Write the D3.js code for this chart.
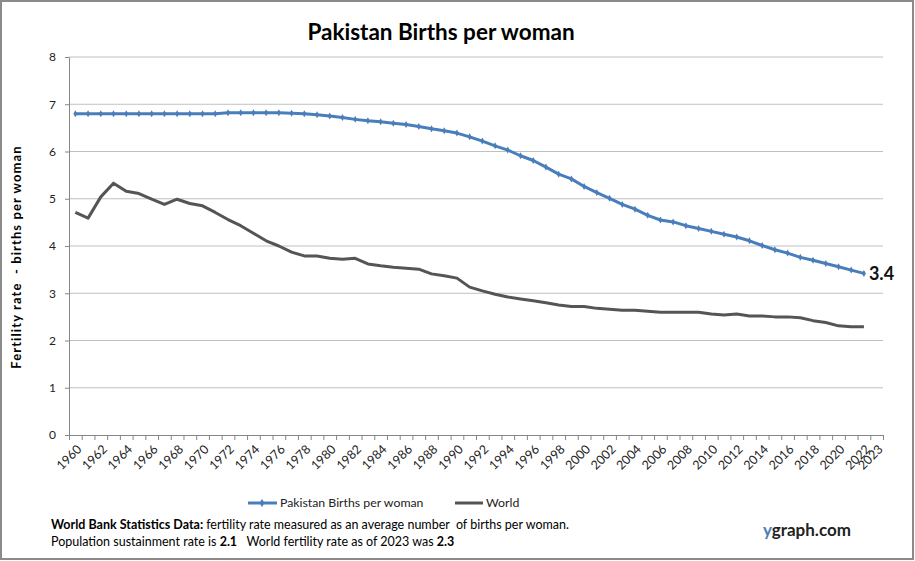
<!DOCTYPE html>
<html>
<head>
<meta charset="utf-8">
<script src="https://cdn.jsdelivr.net/npm/d3@7"></script>
<style>
  body { margin: 0; background: #fff; }
  text { font-family: Lato, "Open Sans", sans-serif; white-space: pre; }
</style>
</head>
<body>
<div id="chart"></div>
<script>
// years on the category axis (2023 has no value yet)
var years = d3.range(1960, 2024);

var pakistan = [6.80, 6.80, 6.80, 6.80, 6.80, 6.80, 6.80, 6.80, 6.80, 6.80,
                6.80, 6.80, 6.82, 6.82, 6.82, 6.82, 6.82, 6.81, 6.80, 6.78,
                6.75, 6.72, 6.68, 6.65, 6.63, 6.60, 6.57, 6.53, 6.48, 6.44,
                6.39, 6.31, 6.22, 6.12, 6.03, 5.91, 5.81, 5.67, 5.52, 5.42,
                5.26, 5.13, 5.01, 4.88, 4.78, 4.65, 4.55, 4.51, 4.43, 4.37,
                4.31, 4.25, 4.19, 4.11, 4.01, 3.92, 3.85, 3.76, 3.70, 3.63,
                3.56, 3.49, 3.42];

var world = [4.71, 4.59, 5.04, 5.33, 5.16, 5.11, 4.99, 4.88, 4.99, 4.90,
             4.85, 4.71, 4.56, 4.43, 4.27, 4.11, 4.00, 3.87, 3.79, 3.79,
             3.74, 3.72, 3.74, 3.62, 3.58, 3.55, 3.53, 3.51, 3.41, 3.37,
             3.32, 3.13, 3.05, 2.98, 2.92, 2.88, 2.84, 2.80, 2.75, 2.72,
             2.72, 2.68, 2.66, 2.64, 2.64, 2.62, 2.60, 2.60, 2.60, 2.60,
             2.56, 2.54, 2.56, 2.52, 2.52, 2.50, 2.50, 2.48, 2.42, 2.38,
             2.31, 2.29, 2.29];

var xLabels = d3.range(1960, 2023, 2).concat([2023]);
var yTicks = [0, 1, 2, 3, 4, 5, 6, 7, 8];

const W = 915, H = 561;
const plot = {left: 69, right: 883, top: 57, bottom: 435};

const blue = "#4a7ebb", grey = "#555555";

const svg = d3.select("#chart")
    .append("svg")
    .attr("width", W)
    .attr("height", H);

// outer frame
svg.append("rect")
    .attr("x", 1).attr("y", 1)
    .attr("width", 912).attr("height", 558)
    .attr("fill", "#fff")
    .attr("stroke", "#8a8a8a")
    .attr("stroke-width", 2);

// scales
const xScale = d3.scaleBand()
    .domain(years)
    .range([plot.left, plot.right]);
const xIdx = d3.scaleLinear()
    .domain([0, years.length])
    .range([plot.left, plot.right]);
const yScale = d3.scaleLinear()
    .domain([0, 8])
    .range([plot.bottom, plot.top]);
const cx = d => xScale(d) + xScale.bandwidth() / 2;

// gridlines
svg.append("g")
    .selectAll("line")
    .data(yTicks.filter(d => d > 0))
    .join("line")
    .attr("x1", plot.left).attr("x2", plot.right)
    .attr("y1", d => yScale(d)).attr("y2", d => yScale(d))
    .attr("stroke", "#c0c0c0")
    .attr("stroke-width", 1);

// y axis
const yAxisGroup = svg.append("g")
    .attr("transform", `translate(${plot.left},0)`)
    .call(d3.axisLeft(yScale).tickValues(yTicks).tickSize(4).tickSizeOuter(0).tickPadding(9));
yAxisGroup.selectAll("line, path").attr("stroke", "#868686");
yAxisGroup.selectAll("text")
    .attr("font-size", 12)
    .attr("fill", "#222")
    .style("font-family", "Lato, sans-serif");

// x axis: ticks between categories
const xAxisGroup = svg.append("g")
    .attr("transform", `translate(0,${plot.bottom})`)
    .call(d3.axisBottom(xIdx).tickValues(d3.range(years.length + 1)).tickFormat("").tickSize(5).tickSizeOuter(0));
xAxisGroup.selectAll("line, path").attr("stroke", "#868686");

// x labels, rotated
svg.append("g")
    .selectAll("text")
    .data(xLabels)
    .join("text")
    .attr("transform", d => `translate(${cx(d) + 7},${plot.bottom + 15}) rotate(-45)`)
    .attr("text-anchor", "end")
    .attr("font-size", 12.5)
    .attr("fill", "#222")
    .text(d => d);

// lines
const line = d3.line()
    .x((d, i) => cx(years[i]))
    .y(d => yScale(d));

svg.append("path")
    .datum(world)
    .attr("fill", "none")
    .attr("stroke", grey)
    .attr("stroke-width", 3)
    .attr("stroke-linejoin", "round")
    .attr("d", line);

svg.append("path")
    .datum(pakistan)
    .attr("fill", "none")
    .attr("stroke", blue)
    .attr("stroke-width", 3)
    .attr("stroke-linejoin", "round")
    .attr("d", line);

// small markers on Pakistan series
svg.append("g")
    .selectAll("path")
    .data(pakistan)
    .join("path")
    .attr("transform", (d, i) => `translate(${cx(years[i])},${yScale(d)})`)
    .attr("d", d3.symbol(d3.symbolDiamond).size(14))
    .attr("fill", blue);

// last value label
var lastIdx = pakistan.length - 1;
svg.append("text")
    .attr("x", cx(years[lastIdx]) + 5)
    .attr("y", yScale(pakistan[lastIdx]) + 7)
    .attr("font-size", 18)
    .attr("font-weight", "bold")
    .attr("fill", "#111")
    .text(pakistan[lastIdx].toFixed(1));

// title
svg.append("text")
    .attr("x", 441)
    .attr("y", 40)
    .attr("text-anchor", "middle")
    .attr("font-size", 22.5)
    .attr("font-weight", "bold")
    .attr("fill", "#000")
    .text("Pakistan Births per woman");

// y axis label
svg.append("text")
    .attr("transform", "translate(21,257) rotate(-90)")
    .attr("text-anchor", "middle")
    .attr("font-size", 13)
    .attr("letter-spacing", 1.1)
    .attr("font-weight", "bold")
    .attr("fill", "#000")
    .text("Fertility rate  - births per woman");

// legend
const legend = svg.append("g");
legend.append("line")
    .attr("x1", 248).attr("x2", 277).attr("y1", 503).attr("y2", 503)
    .attr("stroke", blue).attr("stroke-width", 3);
legend.append("path")
    .attr("transform", "translate(262,503)")
    .attr("d", d3.symbol(d3.symbolDiamond).size(20))
    .attr("fill", blue);
legend.append("text")
    .attr("x", 280).attr("y", 507)
    .attr("font-size", 12.3).attr("fill", "#222")
    .text("Pakistan Births per woman");
legend.append("line")
    .attr("x1", 455).attr("x2", 483).attr("y1", 503).attr("y2", 503)
    .attr("stroke", grey).attr("stroke-width", 3);
legend.append("text")
    .attr("x", 486).attr("y", 507)
    .attr("font-size", 12.3).attr("fill", "#222")
    .text("World");

// footer notes
const note1 = svg.append("text")
    .attr("x", 51).attr("y", 529)
    .attr("font-size", 12.5).attr("fill", "#000");
note1.append("tspan").attr("font-weight", "bold").text("World Bank Statistics Data: ");
note1.append("tspan").text("fertility rate measured as an average number  of births per woman.");

const note2 = svg.append("text")
    .attr("x", 51).attr("y", 546)
    .attr("font-size", 12.5).attr("fill", "#000");
note2.append("tspan").text("Population sustainment rate is ");
note2.append("tspan").attr("font-weight", "bold").text("2.1");
note2.append("tspan").text("   World fertility rate as of 2023 was ");
note2.append("tspan").attr("font-weight", "bold").text("2.3");

// site mark
const brand = svg.append("text")
    .attr("x", 763).attr("y", 536)
    .attr("font-size", 17).attr("font-weight", "bold");
brand.append("tspan").attr("fill", "#4a7ebb").text("y");
brand.append("tspan").attr("fill", "#222").text("graph.com");
</script>
</body>
</html>
